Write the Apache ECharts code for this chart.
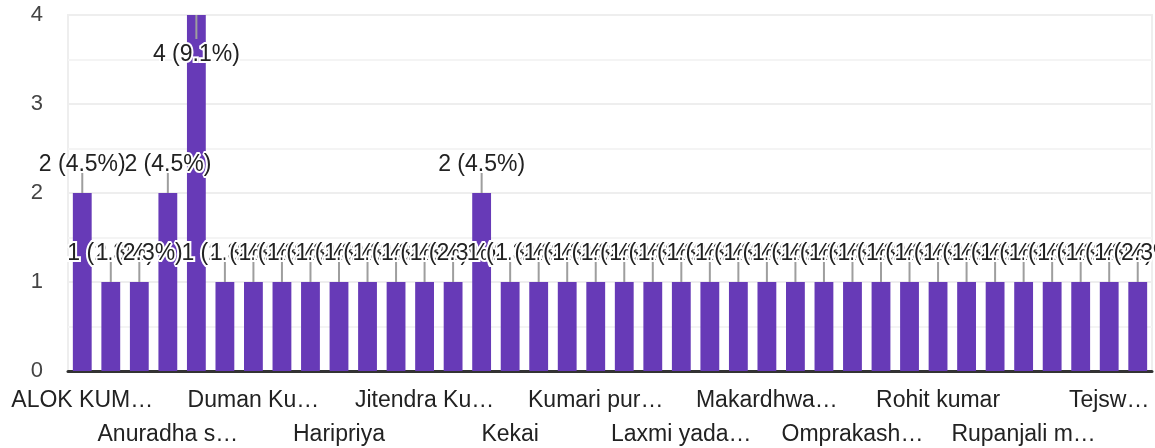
<!DOCTYPE html>
<html>
<head>
<meta charset="utf-8">
<script src="https://cdn.jsdelivr.net/npm/echarts@6/dist/echarts.min.js"></script>
<style>
html,body{margin:0;padding:0;background:#fff;}
#chart{width:1155px;height:448px;}
</style>
</head>
<body>
<div id="chart"></div>
<script>
// Category names (visible labels as shown; others are unlabeled in the picture)
const categories = [
  'ALOK KUM…', 'Aman kumar', 'Anjali kumari', 'Anuradha s…', 'Bablu kumar', 'Chandan kumar',
  'Duman Ku…', 'Ganesh kumar', 'Gita kumari', 'Haripriya', 'Indu kumari', 'Jaya kumari',
  'Jitendra Ku…', 'Jyoti kumari', 'Kajal kumari', 'Kekai', 'Kiran kumari', 'Komal kumari',
  'Kumari pur…', 'Kundan kumar', 'Lalita kumari', 'Laxmi yada…', 'Madhu kumari', 'Mahesh kumar',
  'Makardhwa…', 'Manish kumar', 'Nisha kumari', 'Omprakash…', 'Pooja kumari', 'Rahul kumar',
  'Rohit kumar', 'Roshan kumar', 'Ruby kumari', 'Rupanjali m…', 'Sanjay kumar', 'Sunita kumari',
  'Tejsw…', 'Vikash kumar'
];
const counts = [
  2, 1, 1, 2, 4, 1,
  1, 1, 1, 1, 1, 1,
  1, 1, 2, 1, 1, 1,
  1, 1, 1, 1, 1, 1,
  1, 1, 1, 1, 1, 1,
  1, 1, 1, 1, 1, 1,
  1, 1
];
const yTicks = [0, 1, 2, 3, 4];

const total = counts.reduce((a, b) => a + b, 0);
const FONT = '"Liberation Sans", Arial, sans-serif';
const labelSize = 23;

const xLabelBase = {
  fontSize: 23,
  fontFamily: FONT,
  color: '#222222'
};

const chart = echarts.init(document.getElementById('chart'));
chart.setOption({
  animation: false,
  grid: {
    left: 68, right: 3, top: 15, bottom: 77,
    show: true, borderColor: '#eeeeee', borderWidth: 2,
    outerBoundsMode: 'none'
  },
  xAxis: [
    {
      type: 'category',
      data: categories,
      position: 'bottom',
      axisLine: { lineStyle: { color: '#333333', width: 3 } },
      axisTick: { show: false },
      axisLabel: Object.assign({}, xLabelBase, {
        interval: (i) => i % 6 === 0,
        margin: 18,
        showMinLabel: true
      }),
      splitLine: { show: false }
    },
    {
      type: 'category',
      data: categories,
      position: 'bottom',
      axisLine: { show: false },
      axisTick: { show: false },
      axisLabel: Object.assign({}, xLabelBase, {
        interval: (i) => i % 6 === 3,
        margin: 52
      }),
      splitLine: { show: false }
    }
  ],
  yAxis: {
    type: 'value',
    min: yTicks[0],
    max: yTicks[yTicks.length - 1],
    interval: yTicks[1] - yTicks[0],
    axisLine: { show: false },
    axisTick: { show: false },
    axisLabel: {
      margin: 25,
      fontSize: 22,
      fontFamily: FONT,
      color: '#444444'
    },
    splitLine: { lineStyle: { color: '#eeeeee', width: 2 } },
    minorTick: { show: false, splitNumber: 2 },
    minorSplitLine: { show: true, lineStyle: { color: '#f4f4f4', width: 2 } }
  },
  series: [
    {
      type: 'bar',
      xAxisIndex: 0,
      data: counts,
      barCategoryGap: '34%',
      itemStyle: { color: '#673ab7' }
    },
    {
      type: 'custom',
      xAxisIndex: 0,
      data: counts.map((v, i) => [i, v]),
      encode: { x: 0, y: 1 },
      z: 5,
      renderItem: function (params, api) {
        const i = api.value(0);
        const v = api.value(1);
        const p = api.coord([i, v]);
        const cs = params.coordSys;
        const lineLen = 24;
        const up = p[1] - lineLen - labelSize >= cs.y;
        const y2 = up ? p[1] - lineLen : p[1] + lineLen;
        const ty = up ? y2 + 7 : y2 + 4;
        const text = v + ' (' + (v / total * 100).toFixed(1) + '%)';
        return {
          type: 'group',
          children: [
            {
              type: 'line',
              shape: { x1: p[0], y1: p[1], x2: p[0], y2: y2 },
              style: { stroke: '#9e9e9e', lineWidth: 2 }
            },
            {
              type: 'text',
              x: p[0], y: ty,
              style: {
                text: text,
                font: labelSize + 'px ' + FONT,
                fill: '#222222',
                stroke: '#ffffff',
                lineWidth: 4,
                textAlign: 'center',
                textVerticalAlign: up ? 'bottom' : 'top'
              }
            }
          ]
        };
      }
    }
  ]
});
</script>
</body>
</html>
